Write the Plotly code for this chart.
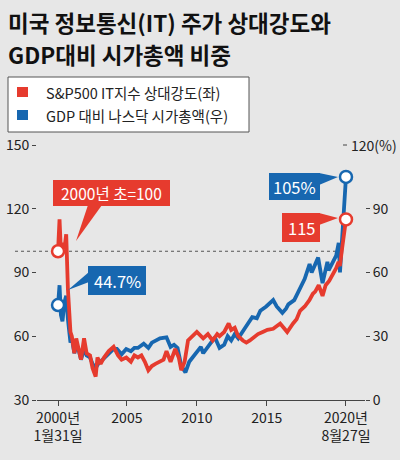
import plotly.graph_objects as go

# ---------------- data ----------------
red_dates = ["2000-01-31","2000-03-10","2000-04-15","2000-05-25","2000-07-15","2000-08-31","2000-10-15",
             "2000-11-20","2000-12-20","2001-01-25","2001-03-31","2001-05-20","2001-07-15","2001-09-21",
             "2001-12-10","2002-02-15","2002-05-15","2002-07-20","2002-10-09","2002-11-25","2003-02-15",
             "2003-05-15","2003-09-15","2004-01-20","2004-05-15","2004-08-15","2004-12-15","2005-04-15",
             "2005-07-15","2005-10-15","2006-01-15","2006-04-15","2006-07-15","2006-10-15","2007-01-15",
             "2007-04-15","2007-08-15","2007-10-31","2008-02-15","2008-06-15","2008-09-15","2008-11-20",
             "2009-02-15","2009-05-15","2009-09-15","2009-12-31","2010-06-15","2010-10-15","2011-02-15",
             "2011-06-15","2011-08-15","2011-12-15","2012-04-10","2012-06-15","2012-09-15","2012-12-15",
             "2013-04-15","2013-07-15","2013-10-15","2014-01-15","2014-05-15","2014-09-15","2015-01-15",
             "2015-06-15","2015-12-15","2016-03-15","2016-06-15","2016-11-15","2017-02-15","2017-05-15",
             "2017-09-15","2018-01-15","2018-04-15","2018-06-15","2018-09-15","2018-12-24","2019-03-15",
             "2019-06-15","2019-09-15","2019-12-15","2020-02-15","2020-03-20","2020-05-15","2020-07-15",
             "2020-08-27"]
red_values = [100,115,100,104,101,108,82,
              68,62,60,52,59,55,49,
              59,52,51,45,41,50,47,
              50,53,55,51,49,50,48,
              51,50,51,48,44,46,47,
              48,49,53,48,54,50,44,
              48,58,60,62,59,61,58,
              61,60,62,66,63,64,60,
              58,57,58,59.5,61,62,63,
              63.5,66,64,62,66,68,72,
              74,77,80,81,84,79,84,
              86,89,92,95,93,101,108,
              115]

blue_dates = ["2000-01-31","2000-03-10","2000-04-15","2000-05-25","2000-07-15","2000-08-31","2000-10-15",
              "2000-11-20","2000-12-20","2001-01-25","2001-03-31","2001-05-20","2001-07-15","2001-09-21",
              "2001-12-10","2002-02-15","2002-05-15","2002-07-20","2002-10-09","2002-12-15","2003-04-15",
              "2003-07-15","2003-10-15","2004-01-20","2004-04-15","2004-08-15","2004-12-15","2005-04-15",
              "2005-07-15","2005-10-15","2006-03-15","2006-07-15","2006-10-15","2007-02-15","2007-05-15",
              "2007-10-31","2008-02-15","2008-05-15","2008-08-15","2008-11-20","2009-03-09","2009-06-15",
              "2009-09-15","2009-12-31","2010-04-15","2010-06-15","2010-12-15","2011-04-15","2011-08-15",
              "2011-12-15","2012-03-15","2012-06-15","2012-09-15","2012-12-15","2013-06-15","2013-12-15",
              "2014-04-15","2014-07-15","2014-12-15","2015-06-15","2015-09-15","2016-02-10","2016-05-15",
              "2016-07-15","2016-12-15","2017-05-15","2017-09-15","2018-01-20","2018-03-15","2018-08-31",
              "2018-12-24","2019-04-30","2019-06-01","2019-12-15","2020-02-19","2020-03-23","2020-05-15",
              "2020-07-15","2020-08-27"]
blue_values = [44.7,54,40,37,46,49,38,
               31,27,29,22,25,24,19,
               24,21,20,17,15,17,19,
               21,22,24,24,21.5,24,23,
               24.5,24.5,26.5,24.5,27,28,29,
               29.5,25,26,24.5,16,13,18,
               20,23,25,22,27,29.5,24.5,
               26,30,28,31,29,34,39,
               38.5,42,44,47,44,41,43,
               45,47,52,57,64,60,67,
               55,65,61,68,74,60,78,
               92,105]

x_tick_vals = ["2000-01-31", "2005-01-01", "2010-01-01", "2015-01-01", "2020-08-27"]
x_tick_text = ["2000년<br>1월31일", "2005", "2010", "2015", "2020년<br>8월27일"]
left_ticks = [30, 60, 90, 120, 150]
right_ticks = [0, 30, 60, 90]

title_lines = ["미국 정보통신(IT) 주가 상대강도와", "GDP대비 시가총액 비중"]
legend_names = ["S&P500 IT지수 상대강도(좌)", "GDP 대비 나스닥 시가총액(우)"]

# ---------------- style ----------------
RED = "#e63b2e"
BLUE = "#1767b0"
BG = "#e7e7e7"
FONT = "Noto Sans CJK KR"
W, H = 400, 460
L, R, T, B = 37, 35, 145, 60
PW, PH = W - L - R, H - T - B

def px(x):
    return (x - L) / PW

def py(y):
    return (H - B - y) / PH

fig = go.Figure()

# blue on y (right axis), red on y2 (left axis, drawn on top)
fig.add_trace(go.Scatter(x=blue_dates, y=blue_values, mode="lines",
                         line=dict(color=BLUE, width=3.8), yaxis="y", hoverinfo="skip"))
fig.add_trace(go.Scatter(x=red_dates, y=red_values, mode="lines",
                         line=dict(color=RED, width=3.8), yaxis="y2", hoverinfo="skip"))
fig.add_trace(go.Scatter(x=[blue_dates[0], blue_dates[-1]], y=[blue_values[0], blue_values[-1]],
                         mode="markers", yaxis="y",
                         marker=dict(size=12, color="white", line=dict(color=BLUE, width=2.5)),
                         hoverinfo="skip"))
fig.add_trace(go.Scatter(x=[red_dates[0], red_dates[-1]], y=[red_values[0], red_values[-1]],
                         mode="markers", yaxis="y2",
                         marker=dict(size=12, color="white", line=dict(color=RED, width=2.5)),
                         hoverinfo="skip"))

shapes = []
annotations = []

# dashed reference line at 100 (left axis)
shapes.append(dict(type="line", xref="paper", yref="y2", x0=px(15), x1=px(340), y0=100, y1=100,
                   line=dict(color="#555555", width=1.2, dash="3px,3px"), layer="below"))

# title
for i, t in enumerate(title_lines):
    annotations.append(dict(text=t, xref="paper", yref="paper", x=px(6), y=py(22 + 32 * i),
                            xanchor="left", yanchor="middle", showarrow=False,
                            font=dict(family=FONT, size=22.5, color="#111111", weight="bold")))

# legend box
shapes.append(dict(type="rect", xref="paper", yref="paper", x0=px(8), x1=px(249), y0=py(77), y1=py(132),
                   fillcolor="white", line=dict(color="#555555", width=1)))
for i, (name, col) in enumerate(zip(legend_names, [RED, BLUE])):
    yc = 92 + 23 * i
    shapes.append(dict(type="rect", xref="paper", yref="paper", x0=px(17), x1=px(28),
                       y0=py(yc - 5), y1=py(yc + 5), fillcolor=col, line=dict(width=0)))
    annotations.append(dict(text=name, xref="paper", yref="paper", x=px(44), y=py(yc),
                            xanchor="left", yanchor="middle", showarrow=False,
                            font=dict(family=FONT, size=14.5, color="#222222")))

# callouts
def path(points):
    return "M " + " L ".join(f"{px(a)},{py(b)}" for a, b in points) + " Z"

callouts = [
    (53, 170, 180, 206, [(88, 205), (102, 205), (76, 241)], "2000년 초=100", RED, 15.5),
    (88, 146, 266, 295, [(89, 272), (89, 282), (68, 290)], "44.7%", BLUE, 16.5),
    (269, 320, 173, 200, [(319, 173), (338, 177), (319, 185)], "105%", BLUE, 16.5),
    (282, 320, 213, 242, [(319, 213), (338, 218), (319, 225)], "115", RED, 16.5),
]
for x0, x1, y0, y1, poly, txt, col, fs in callouts:
    shapes.append(dict(type="rect", xref="paper", yref="paper", x0=px(x0), x1=px(x1),
                       y0=py(y1), y1=py(y0), fillcolor=col, line=dict(width=0), layer="above"))
    shapes.append(dict(type="path", xref="paper", yref="paper", path=path(poly),
                       fillcolor=col, line=dict(width=0), layer="above"))
    annotations.append(dict(text=txt, xref="paper", yref="paper", x=px((x0 + x1) / 2),
                            y=py((y0 + y1) / 2), xanchor="center", yanchor="middle", showarrow=False,
                            font=dict(family=FONT, size=fs, color="white")))

# top right axis label "120(%)"
shapes.append(dict(type="line", xref="paper", yref="paper", x0=px(343), x1=px(347), y0=py(145), y1=py(145),
                   line=dict(color="#444444", width=1)))
annotations.append(dict(text="120(%)", xref="paper", yref="y", x=px(349), y=120,
                        xanchor="left", yanchor="middle", showarrow=False,
                        font=dict(family=FONT, size=14, color="#222222")))

tickfont = dict(family=FONT, size=14, color="#222222")

fig.update_layout(
    width=W, height=H,
    margin=dict(l=L, r=R, t=T, b=B, autoexpand=False),
    paper_bgcolor=BG, plot_bgcolor=BG,
    showlegend=False,
    xaxis=dict(type="date", range=["1998-07-31", "2022-01-05"], showgrid=False, zeroline=False,
               showline=True, linecolor="#444444", linewidth=1,
               ticks="outside", ticklen=5, tickcolor="#444444",
               tickvals=x_tick_vals, ticktext=x_tick_text, tickfont=tickfont, tickangle=0),
    yaxis=dict(side="right", range=[0, 120], tickvals=right_ticks, showgrid=False, zeroline=False,
               showline=False, ticks="outside", ticklen=4, tickcolor="#444444", tickfont=tickfont),
    yaxis2=dict(side="left", overlaying="y", range=[30, 150], tickvals=left_ticks, showgrid=False,
                zeroline=False, showline=False, ticks="outside", ticklen=4, tickcolor="#444444",
                tickfont=tickfont),
    shapes=shapes,
    annotations=annotations,
)

fig.write_html("out.html", config={"displayModeBar": False, "staticPlot": True},
               post_script="document.body.style.margin='0';")
